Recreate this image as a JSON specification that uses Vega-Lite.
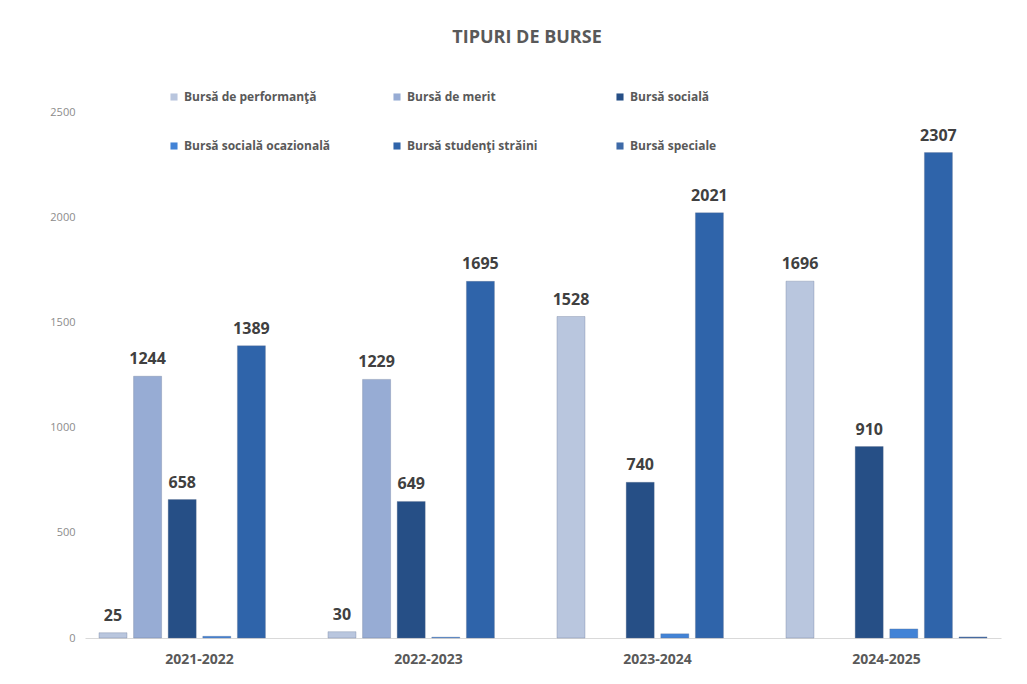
{
  "$schema": "https://vega.github.io/schema/vega-lite/v6.json",
  "width": 916,
  "height": 526,
  "autosize": {"type": "none"},
  "padding": {"left": 85, "top": 112, "right": 26, "bottom": 46},
  "background": "white",
  "config": {"view": {"stroke": null}, "font": "Lato"},
  "title": {
    "text": "TIPURI DE BURSE",
    "font": "Open Sans",
    "fontSize": 18,
    "fontWeight": "bold",
    "color": "#595959",
    "anchor": "middle",
    "dx": -16,
    "baseline": "bottom",
    "offset": 26
  },
  "data": {
    "values": [
      {"an": "2021-2022", "tip": "Bursă de performanţă", "valoare": 25, "eticheta": "25"},
      {"an": "2021-2022", "tip": "Bursă de merit", "valoare": 1244, "eticheta": "1244"},
      {"an": "2021-2022", "tip": "Bursă socială", "valoare": 658, "eticheta": "658"},
      {"an": "2021-2022", "tip": "Bursă socială ocazională", "valoare": 8, "eticheta": ""},
      {"an": "2021-2022", "tip": "Bursă studenţi străini", "valoare": 1389, "eticheta": "1389"},
      {"an": "2021-2022", "tip": "Bursă speciale", "valoare": 0, "eticheta": ""},
      {"an": "2022-2023", "tip": "Bursă de performanţă", "valoare": 30, "eticheta": "30"},
      {"an": "2022-2023", "tip": "Bursă de merit", "valoare": 1229, "eticheta": "1229"},
      {"an": "2022-2023", "tip": "Bursă socială", "valoare": 649, "eticheta": "649"},
      {"an": "2022-2023", "tip": "Bursă socială ocazională", "valoare": 4, "eticheta": ""},
      {"an": "2022-2023", "tip": "Bursă studenţi străini", "valoare": 1695, "eticheta": "1695"},
      {"an": "2022-2023", "tip": "Bursă speciale", "valoare": 0, "eticheta": ""},
      {"an": "2023-2024", "tip": "Bursă de performanţă", "valoare": 1528, "eticheta": "1528"},
      {"an": "2023-2024", "tip": "Bursă de merit", "valoare": 0, "eticheta": ""},
      {"an": "2023-2024", "tip": "Bursă socială", "valoare": 740, "eticheta": "740"},
      {"an": "2023-2024", "tip": "Bursă socială ocazională", "valoare": 20, "eticheta": ""},
      {"an": "2023-2024", "tip": "Bursă studenţi străini", "valoare": 2021, "eticheta": "2021"},
      {"an": "2023-2024", "tip": "Bursă speciale", "valoare": 0, "eticheta": ""},
      {"an": "2024-2025", "tip": "Bursă de performanţă", "valoare": 1696, "eticheta": "1696"},
      {"an": "2024-2025", "tip": "Bursă de merit", "valoare": 0, "eticheta": ""},
      {"an": "2024-2025", "tip": "Bursă socială", "valoare": 910, "eticheta": "910"},
      {"an": "2024-2025", "tip": "Bursă socială ocazională", "valoare": 43, "eticheta": ""},
      {"an": "2024-2025", "tip": "Bursă studenţi străini", "valoare": 2307, "eticheta": "2307"},
      {"an": "2024-2025", "tip": "Bursă speciale", "valoare": 5, "eticheta": ""}
    ]
  },
  "encoding": {
    "x": {
      "field": "an",
      "type": "nominal",
      "sort": ["2021-2022", "2022-2023", "2023-2024", "2024-2025"],
      "title": null,
      "scale": {"paddingInner": 0.122, "paddingOuter": 0.061},
      "axis": {
        "labelAngle": 0,
        "labelFont": "Open Sans",
        "labelFontSize": 14,
        "labelFontWeight": "bold",
        "labelColor": "#595959",
        "labelPadding": 14,
        "ticks": false,
        "domainColor": "#d9d9d9",
        "domainWidth": 1
      }
    },
    "xOffset": {
      "field": "tip",
      "type": "nominal",
      "sort": ["Bursă de performanţă", "Bursă de merit", "Bursă socială", "Bursă socială ocazională", "Bursă studenţi străini", "Bursă speciale"],
      "scale": {"paddingInner": 0.19, "paddingOuter": 0}
    },
    "y": {
      "field": "valoare",
      "type": "quantitative",
      "title": null,
      "scale": {"domain": [0, 2500], "nice": false},
      "axis": {
        "values": [0, 500, 1000, 1500, 2000, 2500],
        "format": "d",
        "domain": false,
        "ticks": false,
        "grid": false,
        "labelFont": "Open Sans",
        "labelFontSize": 11,
        "labelColor": "#8c8c8c",
        "labelPadding": 10
      }
    }
  },
  "layer": [
    {
      "transform": [{"filter": "datum.valoare > 0"}],
      "mark": {"type": "bar", "stroke": "#5d6f8c", "strokeWidth": 0.6, "strokeOpacity": 0.5},
      "encoding": {
        "color": {
          "field": "tip",
          "type": "nominal",
          "sort": ["Bursă de performanţă", "Bursă de merit", "Bursă socială", "Bursă socială ocazională", "Bursă studenţi străini", "Bursă speciale"],
          "scale": {
            "domain": ["Bursă de performanţă", "Bursă de merit", "Bursă socială", "Bursă socială ocazională", "Bursă studenţi străini", "Bursă speciale"],
            "range": ["#b9c6de", "#97acd4", "#264f86", "#4283d6", "#2f64aa", "#3e6aa8"]
          },
          "legend": {
            "orient": "none",
            "legendX": 83,
            "legendY": -21,
            "direction": "horizontal",
            "columns": 3,
            "gridAlign": "all",
            "columnPadding": 60,
            "rowPadding": 37,
            "title": null,
            "symbolType": "square",
            "symbolSize": 50,
            "symbolStrokeWidth": 0,
            "labelFont": "Open Sans",
            "labelFontSize": 12,
            "labelFontWeight": "bold",
            "labelColor": "#595959",
            "labelOffset": 4,
            "labelLimit": 300,
            "padding": 0
          }
        }
      }
    },
    {
      "transform": [{"filter": "datum.eticheta != ''"}],
      "mark": {
        "type": "text",
        "baseline": "bottom",
        "dy": -9,
        "font": "Open Sans",
        "fontSize": 16,
        "fontWeight": "bold",
        "color": "#404040"
      },
      "encoding": {"text": {"field": "eticheta"}}
    }
  ]
}
